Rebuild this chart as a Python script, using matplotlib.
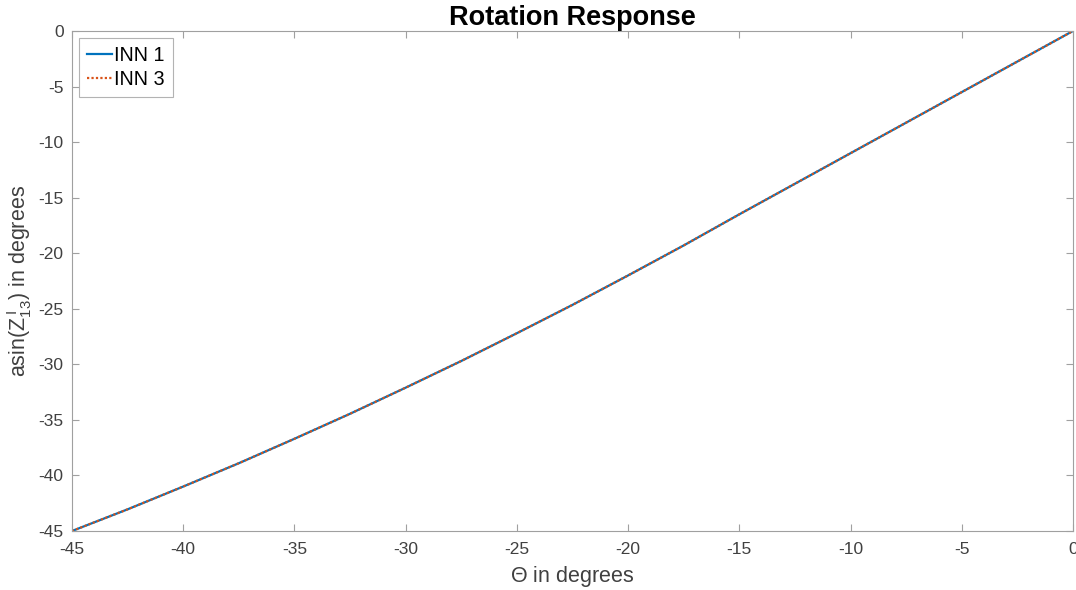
import matplotlib.pyplot as plt
import numpy as np

theta_deg = [-45, -42.5, -40, -37.5, -35, -32.5, -30, -27.5, -25, -22.5,
             -20, -17.5, -15, -12.5, -10, -7.5, -5, -2.5, 0]
inn1 = [-45.0, -43.05, -41.0, -38.9, -36.7, -34.45, -32.1, -29.7, -27.2, -24.65,
        -22.0, -19.3, -16.5, -13.75, -11.0, -8.25, -5.5, -2.75, 0.0]
inn3 = [-45.0, -43.05, -41.0, -38.9, -36.7, -34.45, -32.1, -29.7, -27.2, -24.65,
        -22.0, -19.3, -16.5, -13.75, -11.0, -8.25, -5.5, -2.75, 0.0]
x_ticks = [-45, -40, -35, -30, -25, -20, -15, -10, -5, 0]
y_ticks = [-45, -40, -35, -30, -25, -20, -15, -10, -5, 0]

plt.rcParams["font.family"] = ["Liberation Sans", "DejaVu Sans"]
plt.rcParams["mathtext.fontset"] = "custom"
plt.rcParams["mathtext.rm"] = "Liberation Sans"
plt.rcParams["mathtext.it"] = "Liberation Sans"
plt.rcParams["axes.unicode_minus"] = False

fig = plt.figure(figsize=(10.76, 5.9), dpi=100)
ax = fig.add_axes([0.0669, 0.1, 0.9303, 0.8475])

ax.plot(theta_deg, inn1, color="#0072BD", linewidth=1.6, label="INN 1")
ax.plot(theta_deg, inn3, color="#D95319", linewidth=1.6, linestyle=(0, (1, 1)), label="INN 3")

ax.set_xlim(-45, 0)
ax.set_ylim(-45, 0)
ax.set_xticks(x_ticks)
ax.set_yticks(y_ticks)
ax.tick_params(direction="in", top=True, right=True, length=5, width=0.8, pad=6,
               color="#a0a0a0", labelcolor="#404040", labelsize=12.5)
ax.tick_params(axis="x", pad=8)
for s in ax.spines.values():
    s.set_color("#a0a0a0")
    s.set_linewidth(0.8)

ax.set_title("Rotation Response", fontsize=19.5, fontweight="bold", pad=4)
ax.set_xlabel(r"$\Theta$ in degrees", fontsize=15.5, color="#404040", labelpad=5)
ax.set_ylabel(r"asin(Z$_{13}^{\,I}$) in degrees", fontsize=15.5, color="#404040", labelpad=3)

leg = ax.legend(loc="upper left", fontsize=14.2, frameon=True, fancybox=False,
                borderaxespad=0.35, handlelength=1.3, handletextpad=0.1,
                borderpad=0.4, labelspacing=0.25)
leg.get_frame().set_edgecolor("#a0a0a0")
leg.get_frame().set_linewidth(0.8)

fig.savefig("out.png", dpi=100)
